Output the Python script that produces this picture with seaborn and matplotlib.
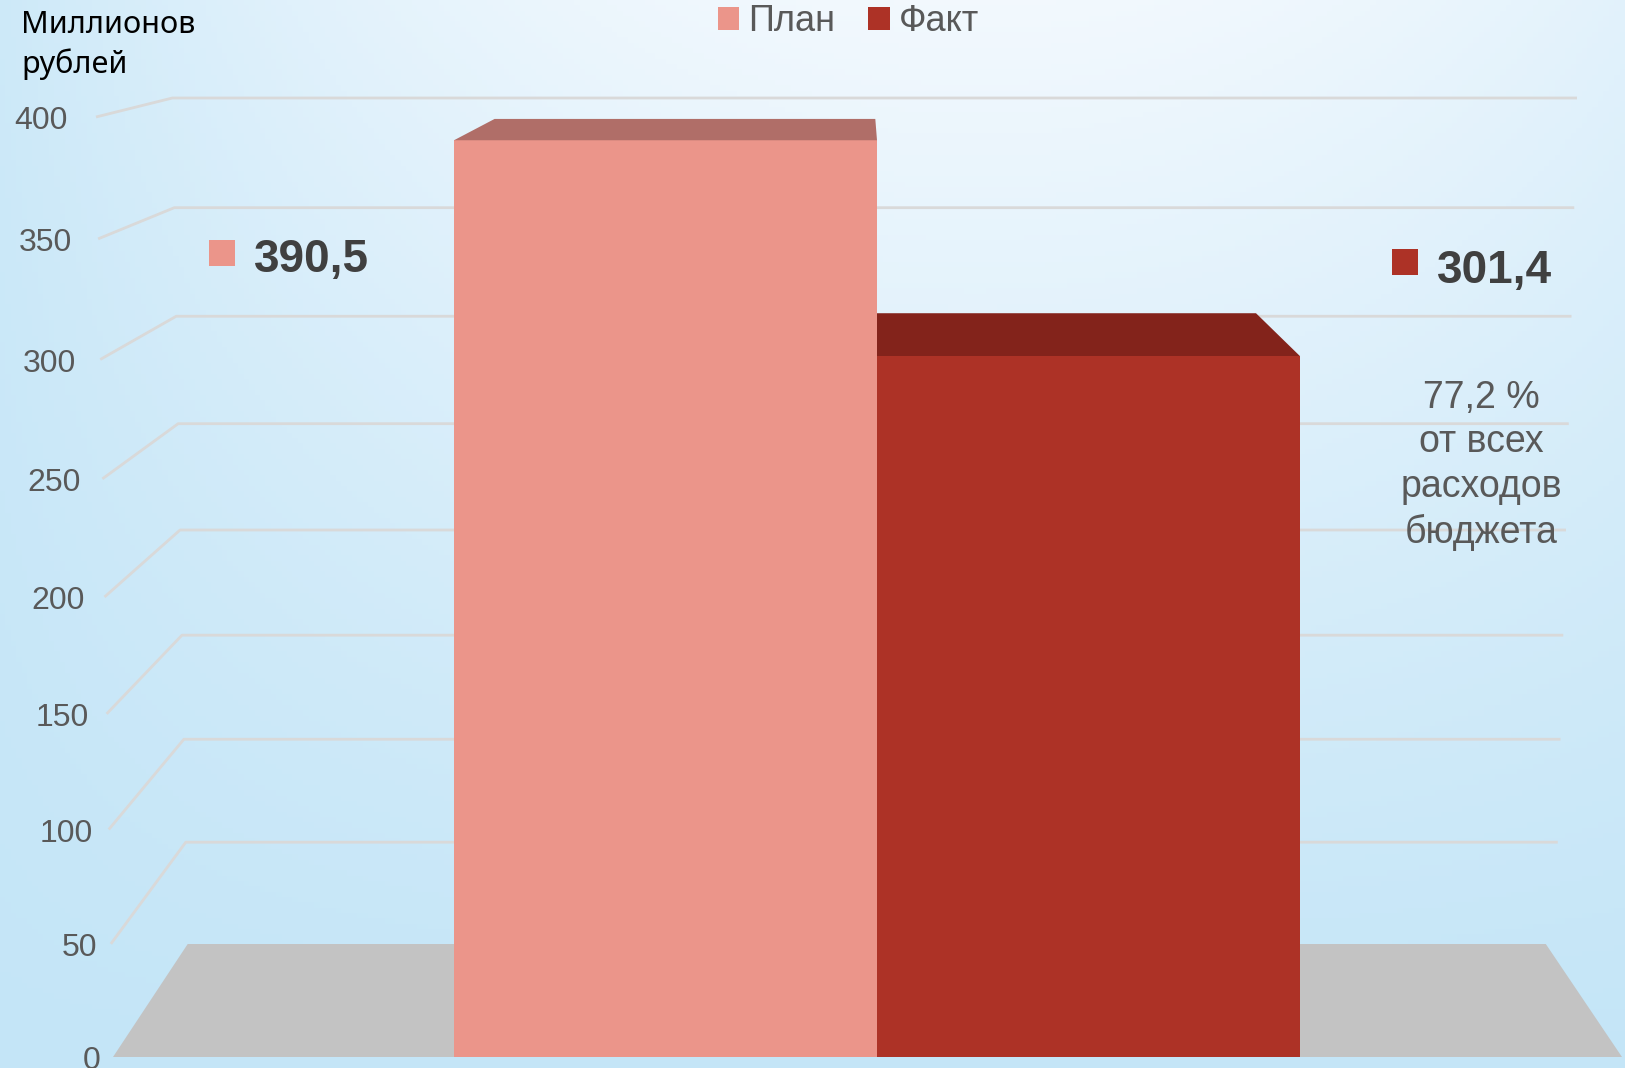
import matplotlib
matplotlib.use("Agg")
import matplotlib.pyplot as plt
from matplotlib.patches import Patch, Polygon, Rectangle
from matplotlib.transforms import ScaledTranslation
import numpy as np
import pandas as pd
import seaborn as sns

categories = ["План", "Факт"]
values = [390.5, 301.4]
value_labels = ["390,5", "301,4"]
yticks = [0, 50, 100, 150, 200, 250, 300, 350, 400]
unit_label = "Миллионов\nрублей"
share_note = "77,2 %\nот всех\nрасходов\nбюджета"

FRONT = ["#eb958a", "#ad3226"]
TOPS = ["#b06e68", "#83231b"]
GREY_TXT = "#595959"
W, H = 1625, 1068

# pseudo-3d frame, in pixels of the output image
X0_PX, X_UNIT = 665.5, 423.0   # centre of the first bar, px per category
Y0_PX = 1057.0                 # value 0 on the front plane
A, B = 2.25, 0.00025           # front plane: px above zero = A*v + B*v^2 (tilt)
VP_PX = (860.0, -73.0)         # vanishing point
DEPTH = 0.9                    # back wall scale


def fwd(v):
    v = np.asarray(v, dtype=float)
    return A * v + B * v ** 2


def inv(p):
    p = np.asarray(p, dtype=float)
    return (-A + np.sqrt(np.clip(A ** 2 + 4 * B * p, 0, None))) / (2 * B)


def px_x(px):
    return (px - X0_PX) / X_UNIT


def py_v(py):
    return float(inv(Y0_PX - py))


def back(x, v):
    bx = VP_PX[0] + DEPTH * (X0_PX + x * X_UNIT - VP_PX[0])
    by = VP_PX[1] + DEPTH * (Y0_PX - float(fwd(v)) - VP_PX[1])
    return px_x(bx), py_v(by)


def main() -> None:
    sns.set_theme(style="white")
    plt.rcParams["font.family"] = ["Liberation Sans", "DejaVu Sans"]

    fig = plt.figure(figsize=(W / 100, H / 100), dpi=100)

    # background gradient
    bg = fig.add_axes([0, 0, 1, 1])
    yy, xx = np.mgrid[0:1:200j, 0:1:300j]
    light = (1 - yy) ** 1.1 * np.clip(1 - 0.8 * ((xx - 0.6) / 0.6) ** 2, 0, 1)
    blue = np.array([0.77, 0.90, 0.97])
    white = np.array([0.95, 0.975, 0.995])
    bg.imshow(blue + light[..., None] * (white - blue), extent=[0, 1, 0, 1],
              aspect="auto", origin="upper")
    bg.axis("off")

    ax = fig.add_axes([0, 0, 1, 1])
    ax.patch.set_alpha(0)

    df = pd.DataFrame({"category": categories, "value": values})
    sns.barplot(data=df, x="category", y="value", hue="category", palette=FRONT,
                width=1, saturation=1, legend=False, linewidth=0, zorder=3, ax=ax)
    ax.set_yscale("function", functions=(fwd, inv))

    # gridlines: slanted side wall + back wall
    for v in yticks[1:]:
        t = (400 - v) / 400
        fx = px_x(96 + 17 * t)
        bx, bv = back(fx, v)
        rx = px_x(1577 - 22 * t)
        ax.plot([fx, bx, rx], [v, bv, bv], color="#d9d9d9", lw=2, zorder=1,
                solid_capstyle="butt")
    shift = ax.transData + ScaledTranslation(0, -4 / 100, fig.dpi_scale_trans)
    for v in yticks:
        t = (400 - v) / 400
        ax.text(px_x(68 + 33 * t), v, str(v), ha="right", va="center",
                fontsize=23, color=GREY_TXT, transform=shift)

    # floor slab
    fl, fr = px_x(113), px_x(1622)
    floor = [(fl, 0), (fr, 0), back(fr, 0), back(fl, 0)]
    ax.add_patch(Polygon(floor, closed=True, fc="#c3c3c3", ec="none", zorder=1.5))

    # bar tops
    for i, (v, c) in enumerate(zip(values, TOPS)):
        x0, x1 = i - 0.5, i + 0.5
        pts = [(x0, v), (x1, v), back(x1, v), back(x0, v)]
        ax.add_patch(Polygon(pts, closed=True, fc=c, ec="none",
                             zorder=3 if i == 0 else 2.5))

    ax.set_xlim(px_x(0), px_x(W))
    ax.set_ylim(py_v(H), py_v(0))
    ax.axis("off")

    # value labels with colour keys
    keys = [(209, 240, 272, 254), (1392, 249, 283, 1437)]
    for (sx, sy, base, tx), lab, c in zip(keys, value_labels, FRONT):
        fig.add_artist(Rectangle((sx / W, 1 - (sy + 26) / H), 26 / W, 26 / H,
                                 transform=fig.transFigure, fc=c, ec="none"))
        fig.text(tx / W, 1 - base / H, lab, ha="left", va="baseline",
                 fontsize=33, fontweight="bold", color="#404040")

    fig.text(1481 / W, 1 - 380 / H, share_note, ha="center", va="top",
             fontsize=27, color=GREY_TXT, linespacing=1.3)

    fig.text(21 / W, 1 - 10 / H, unit_label, ha="left", va="top", fontsize=22,
             color="black", family=["Noto Sans", "DejaVu Sans"], linespacing=1.32)

    handles = [Patch(fc=c, ec="none") for c in FRONT]
    fig.legend(handles, categories, loc="upper center",
               bbox_to_anchor=(0.522, 1 - 4 / H),
               ncol=2, frameon=False, fontsize=26, labelcolor=GREY_TXT,
               handlelength=0.6, handleheight=0.6, handletextpad=0.25,
               columnspacing=0.9, borderaxespad=0, borderpad=0)

    fig.savefig("out.png", dpi=100)
    plt.close(fig)


if __name__ == "__main__":
    main()
